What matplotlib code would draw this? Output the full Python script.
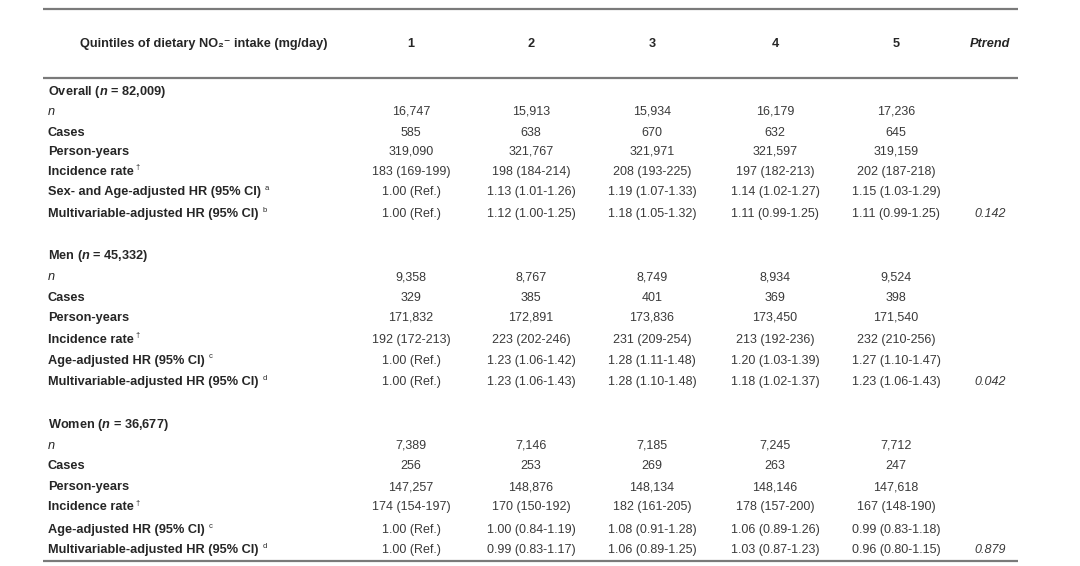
import matplotlib
matplotlib.use("Agg")
import matplotlib.pyplot as plt

plt.rcParams["font.family"] = ["Liberation Sans", "DejaVu Sans"]
plt.rcParams["mathtext.fontset"] = "custom"
plt.rcParams["mathtext.rm"] = "Liberation Sans:bold"
plt.rcParams["mathtext.it"] = "Liberation Sans:italic:bold"
plt.rcParams["mathtext.bf"] = "Liberation Sans:bold"

# ---- table data ----
quintiles = ["1", "2", "3", "4", "5"]

row_labels = ["n", "Cases", "Person-years", "Incidence rate", "HR1", "HR2"]
row_marks = ["", "", "", "\u2020", "", ""]

section_titles = [r"Overall ($n$ = 82,009)", r"Men ($n$ = 45,332)", r"Women ($n$ = 36,677)"]
hr1_labels = ["Sex- and Age-adjusted HR (95% CI)", "Age-adjusted HR (95% CI)", "Age-adjusted HR (95% CI)"]
hr1_marks = ["a", "c", "c"]
hr2_labels = ["Multivariable-adjusted HR (95% CI)"] * 3
hr2_marks = ["b", "d", "d"]

overall_n = ["16,747", "15,913", "15,934", "16,179", "17,236"]
overall_cases = ["585", "638", "670", "632", "645"]
overall_py = ["319,090", "321,767", "321,971", "321,597", "319,159"]
overall_ir = ["183 (169-199)", "198 (184-214)", "208 (193-225)", "197 (182-213)", "202 (187-218)"]
overall_hr1 = ["1.00 (Ref.)", "1.13 (1.01-1.26)", "1.19 (1.07-1.33)", "1.14 (1.02-1.27)", "1.15 (1.03-1.29)"]
overall_hr2 = ["1.00 (Ref.)", "1.12 (1.00-1.25)", "1.18 (1.05-1.32)", "1.11 (0.99-1.25)", "1.11 (0.99-1.25)"]

men_n = ["9,358", "8,767", "8,749", "8,934", "9,524"]
men_cases = ["329", "385", "401", "369", "398"]
men_py = ["171,832", "172,891", "173,836", "173,450", "171,540"]
men_ir = ["192 (172-213)", "223 (202-246)", "231 (209-254)", "213 (192-236)", "232 (210-256)"]
men_hr1 = ["1.00 (Ref.)", "1.23 (1.06-1.42)", "1.28 (1.11-1.48)", "1.20 (1.03-1.39)", "1.27 (1.10-1.47)"]
men_hr2 = ["1.00 (Ref.)", "1.23 (1.06-1.43)", "1.28 (1.10-1.48)", "1.18 (1.02-1.37)", "1.23 (1.06-1.43)"]

women_n = ["7,389", "7,146", "7,185", "7,245", "7,712"]
women_cases = ["256", "253", "269", "263", "247"]
women_py = ["147,257", "148,876", "148,134", "148,146", "147,618"]
women_ir = ["174 (154-197)", "170 (150-192)", "182 (161-205)", "178 (157-200)", "167 (148-190)"]
women_hr1 = ["1.00 (Ref.)", "1.00 (0.84-1.19)", "1.08 (0.91-1.28)", "1.06 (0.89-1.26)", "0.99 (0.83-1.18)"]
women_hr2 = ["1.00 (Ref.)", "0.99 (0.83-1.17)", "1.06 (0.89-1.25)", "1.03 (0.87-1.23)", "0.96 (0.80-1.15)"]

p_trend = ["0.142", "0.042", "0.879"]

sections = [
    [overall_n, overall_cases, overall_py, overall_ir, overall_hr1, overall_hr2],
    [men_n, men_cases, men_py, men_ir, men_hr1, men_hr2],
    [women_n, women_cases, women_py, women_ir, women_hr1, women_hr2],
]

# ---- layout (pixel coords) ----
W, H = 1080, 566
fig = plt.figure(figsize=(W / 100, H / 100), dpi=100, facecolor="white")
ax = fig.add_axes([0, 0, 1, 1])
ax.set_xlim(0, W); ax.set_ylim(H, 0); ax.axis("off")

TXT = "#262626"
VAL = "#3a3a3a"
LINE = "#7a7a7a"
FS = 9.2
FV = 9.0
col_x = [411, 531, 652, 775, 896]
p_x = 990
label_x = 48

# rules
for y in (9, 78, 561):
    ax.plot([43, 1018], [y, y], color=LINE, lw=1.6, solid_capstyle="butt")

# header
ax.text(204, 44, "Quintiles of dietary NO\u2082\u207b intake (mg/day)", fontsize=FS, fontweight="bold",
        color=TXT, ha="center", va="center")
for x, q in zip(col_x, quintiles):
    ax.text(x, 44, q, fontsize=FS, fontweight="bold", color=TXT, ha="center", va="center")
ax.text(p_x, 44, "Ptrend", fontsize=FS, fontweight="bold", fontstyle="italic", color=TXT,
        ha="center", va="center")

title_y = [92, 256, 425]
row_y = [
    [112, 133, 152, 172, 192, 214],
    [277, 298, 318, 340, 361, 382],
    [446, 466, 487, 507, 530, 550],
]

renderer = fig.canvas.get_renderer()
to_data = ax.transData.inverted()

for s, rows in enumerate(sections):
    ax.text(label_x, title_y[s], section_titles[s], fontsize=FS, fontweight="bold", color=TXT,
            ha="left", va="center")
    labels = list(row_labels)
    marks = list(row_marks)
    labels[4], marks[4] = hr1_labels[s], hr1_marks[s]
    labels[5], marks[5] = hr2_labels[s], hr2_marks[s]
    for r, vals in enumerate(rows):
        y = row_y[s][r]
        if r == 0:
            t = ax.text(label_x, y, labels[r], fontsize=FS, fontstyle="italic", color=TXT,
                        ha="left", va="center")
        else:
            t = ax.text(label_x, y, labels[r], fontsize=FS, fontweight="bold", color=TXT,
                        ha="left", va="center")
        if marks[r]:
            bb = t.get_window_extent(renderer)
            x_end = to_data.transform((bb.x1, bb.y0))[0]
            gap = 1.5 if marks[r] == "\u2020" else 4
            ax.text(x_end + gap, y - 4, marks[r], fontsize=5.5, color=TXT,
                    ha="left", va="center")
        for x, v in zip(col_x, vals):
            ax.text(x, y, v, fontsize=FV, color=VAL, ha="center", va="center")
    ax.text(p_x, row_y[s][5], p_trend[s], fontsize=FV, fontstyle="italic", color=VAL,
            ha="center", va="center")

fig.savefig("out.png", dpi=100, facecolor="white")
